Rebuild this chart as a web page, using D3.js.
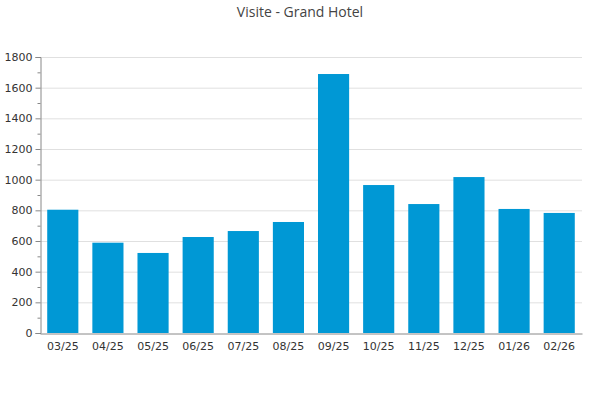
<!DOCTYPE html>
<html><head><meta charset="utf-8">
<script src="https://cdn.jsdelivr.net/npm/d3@7"></script>
<style>body{margin:0;background:#fff}svg{display:block}</style>
</head><body>
<svg id="c" width="600" height="400"></svg>
<script>
const title = "Visite - Grand Hotel";
const categories = ["03/25","04/25","05/25","06/25","07/25","08/25","09/25","10/25","11/25","12/25","01/26","02/26"];
const visits = [804, 589, 522, 626, 665, 724, 1689, 965, 841, 1017, 809, 783];
const yTicks = [0, 200, 400, 600, 800, 1000, 1200, 1400, 1600, 1800];
const yMinorTicks = [100, 300, 500, 700, 900, 1100, 1300, 1500, 1700];

const svg = d3.select("#c");
const m = {l: 40, r: 18, t: 57, b: 67};
const W = 600, H = 400;
const x = d3.scaleBand().domain(categories).range([m.l, W - m.r]).paddingInner(0.31).paddingOuter(0.16);
const y = d3.scaleLinear().domain([0, 1800]).range([H - m.b, m.t]);

svg.append("text").attr("x", 300).attr("y", 17).attr("text-anchor", "middle")
  .attr("font-family", "Open Sans, sans-serif").attr("font-size", 14).attr("fill", "#444").text(title);

// gridlines
svg.append("g").selectAll("line").data(yTicks.filter(d => d > 0)).join("line")
  .attr("x1", m.l).attr("x2", W - m.r).attr("y1", d => y(d) + 0.5).attr("y2", d => y(d) + 0.5)
  .attr("stroke", "#e0e0e0").attr("stroke-width", 1);

// bars
svg.append("g").selectAll("rect").data(visits).join("rect")
  .attr("x", (d, i) => x(categories[i])).attr("width", x.bandwidth())
  .attr("y", d => y(d)).attr("height", d => y(0) - y(d)).attr("fill", "#0098d5");

// y axis
const ya = svg.append("g").attr("transform", `translate(${m.l + 0.5},0)`)
  .call(d3.axisLeft(y).tickValues(yTicks).tickSize(5).tickPadding(3).tickFormat(d3.format("d")));
ya.select(".domain").attr("stroke", "#888");
ya.selectAll(".tick line").attr("stroke", "#888");
ya.selectAll("text").attr("font-family", "DejaVu Sans, sans-serif").attr("font-size", 11).attr("fill", "#333");
svg.append("g").attr("transform", `translate(${m.l + 0.5},0)`)
  .call(d3.axisLeft(y).tickValues(yMinorTicks).tickSize(3).tickFormat(""))
  .call(g => g.select(".domain").remove())
  .selectAll("line").attr("stroke", "#888");

// x axis
const xa = svg.append("g").attr("transform", `translate(0,${y(0) + 0.5})`)
  .call(d3.axisBottom(x).tickSize(0).tickPadding(9));
xa.select(".domain").attr("stroke", "#888");
xa.selectAll("text").attr("font-family", "DejaVu Sans, sans-serif").attr("font-size", 11).attr("fill", "#333");
</script>
</body></html>
